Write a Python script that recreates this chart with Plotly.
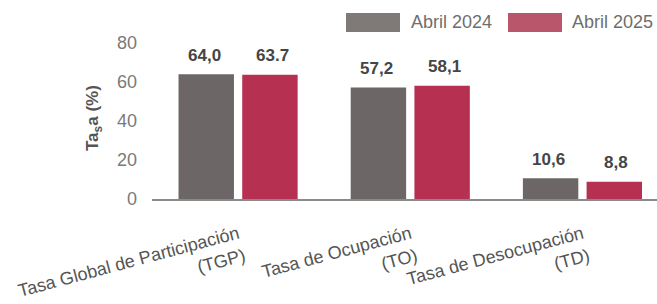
import plotly.graph_objects as go

categories = ["Tasa Global de Participación<br>(TGP)", "Tasa de Ocupación<br>(TO)", "Tasa de Desocupación<br>(TD)"]
series_names = ["Abril 2024", "Abril 2025"]
values_2024 = [64.0, 57.2, 10.6]
values_2025 = [63.7, 58.1, 8.8]
labels_2024 = ["64,0", "57,2", "10,6"]
labels_2025 = ["63.7", "58,1", "8,8"]
y_ticks = [0, 20, 40, 60, 80]

colors = ["#6d6666", "#b63151"]
legend_colors = ["#7f7977", "#b9566b"]

W, H = 657, 304
ML, MR, MT, MB = 152, 0, 43, 105
FONT = "Liberation Sans, Arial"

fig = go.Figure()
for name, vals, col in zip(series_names, [values_2024, values_2025], colors):
    fig.add_trace(go.Bar(x=categories, y=vals, name=name, marker_color=col,
                         marker_line_width=0, showlegend=False))

# value labels
for vals, labs, shift in [(values_2024, labels_2024, -34), (values_2025, labels_2025, 34)]:
    for c, v, t in zip(categories, vals, labs):
        fig.add_annotation(x=c, y=v, text="<b>%s</b>" % t, showarrow=False,
                           xshift=shift, yshift=19, yanchor="middle",
                           font=dict(family=FONT, size=17, color="#454545"))

# custom legend
def px(xp):
    return (xp - ML) / (W - ML - MR)
def py(yp):
    return (H - MB - yp) / (H - MT - MB)

legend_pos = [(346, 400, 409), (508, 562, 570)]
for name, col, (x0, x1, tx) in zip(series_names, legend_colors, legend_pos):
    fig.add_shape(type="rect", xref="paper", yref="paper",
                  x0=px(x0), x1=px(x1), y0=py(32), y1=py(13),
                  fillcolor=col, line_width=0)
    fig.add_annotation(xref="paper", yref="paper", x=px(tx), y=py(22), text=name,
                       showarrow=False, xanchor="left", yanchor="middle",
                       font=dict(family=FONT, size=18, color="#6e6e6e"))

# y-axis title
fig.add_annotation(xref="paper", yref="paper", x=px(94), y=py(118),
                   text="<b>Ta<sub>s</sub>a (%)</b>", showarrow=False, textangle=-90,
                   xanchor="center", yanchor="middle",
                   font=dict(family=FONT, size=17, color="#555555"))

fig.update_layout(
    width=W, height=H,
    margin=dict(l=ML, r=MR, t=MT, b=MB, pad=0, autoexpand=False),
    paper_bgcolor="white", plot_bgcolor="white",
    barmode="group", bargap=0.26, bargroupgap=0.13,
    xaxis=dict(range=[-0.5, 2.433], showgrid=False, showline=True, linecolor="#8a8a8a",
               linewidth=1.5, ticks="", tickangle=-15, ticklabelstandoff=16,
               tickfont=dict(family=FONT, size=18, color="#555555")),
    yaxis=dict(range=[0, 80], tickvals=y_ticks, showgrid=False, showline=False, zeroline=False,
               ticklabelstandoff=14,
               tickfont=dict(family=FONT, size=18, color="#7a7a7a")),
)

fig.write_html("out.html", config={"displayModeBar": False},
               post_script="document.body.style.margin='0';document.body.style.overflow='hidden';")
